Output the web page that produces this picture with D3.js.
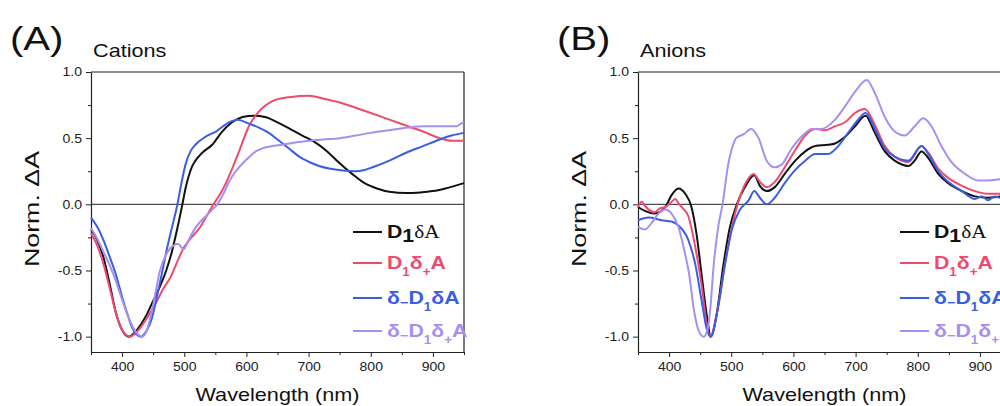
<!DOCTYPE html>
<html><head><meta charset="utf-8">
<script src="https://cdn.jsdelivr.net/npm/d3@7"></script>
<style>
body{margin:0;background:#fff}
svg{display:block}
text{font-family:"Liberation Sans",Arial,sans-serif}
</style>
</head><body>
<svg id="c" width="1000" height="406"></svg>
<script>
// ---------- DATA ----------
const xTicksMajor = [400, 500, 600, 700, 800, 900];
const xTicksMinor = [350, 450, 550, 650, 750, 850, 950];
const yTicksMajor = [-1.0, -0.5, 0.0, 0.5, 1.0];
const yTicksMinor = [-0.75, -0.25, 0.25, 0.75];
const panelLetters = ["(A)", "(B)"];
const panelTitles = ["Cations", "Anions"];
const seriesNames = ["D1dA", "D1d+A", "d-D1dA", "d-D1d+A"];
const seriesColors = ["#111111", "#ee4a6f", "#3a5de6", "#a68ff0"];

// Panel A (cations): [wavelength nm, normalized dA]
const cationsD1dA = [[350,-0.19],[360,-0.27],[370,-0.40],[380,-0.60],[390,-0.82],[400,-0.95],[411,-1.0],[420,-0.97],[430,-0.91],[440,-0.83],[450,-0.73],[460,-0.63],[471,-0.50],[480,-0.36],[488,-0.20],[497,0.0],[502,0.12],[507,0.21],[513,0.29],[518,0.33],[529,0.39],[545,0.45],[561,0.55],[577,0.62],[594,0.66],[612,0.67],[630,0.66],[650,0.62],[670,0.57],[690,0.52],[710,0.47],[730,0.40],[750,0.31],[770,0.23],[790,0.16],[810,0.12],[830,0.095],[857,0.085],[880,0.09],[900,0.10],[920,0.12],[950,0.16]];
const cationsD1dpA = [[350,-0.22],[360,-0.31],[370,-0.45],[380,-0.63],[390,-0.82],[400,-0.95],[413,-1.0],[420,-0.98],[430,-0.93],[440,-0.86],[454,-0.75],[466,-0.64],[478,-0.55],[490,-0.42],[499,-0.33],[510,-0.26],[526,-0.17],[537,-0.08],[547,0.0],[558,0.08],[567,0.16],[578,0.28],[589,0.41],[604,0.59],[620,0.70],[642,0.78],[669,0.81],[701,0.82],[723,0.80],[750,0.77],[776,0.73],[800,0.69],[830,0.64],[860,0.59],[884,0.55],[911,0.50],[930,0.48],[950,0.48]];
const cationsdmD1dA = [[350,-0.10],[360,-0.17],[370,-0.27],[378,-0.37],[390,-0.53],[400,-0.70],[410,-0.85],[416,-0.93],[430,-1.0],[440,-0.95],[448,-0.86],[455,-0.72],[465,-0.50],[472,-0.34],[480,-0.18],[489,0.0],[495,0.15],[502,0.30],[510,0.40],[518,0.45],[534,0.51],[551,0.55],[572,0.62],[586,0.64],[604,0.61],[620,0.58],[636,0.54],[650,0.49],[669,0.42],[685,0.36],[701,0.32],[717,0.29],[733,0.27],[755,0.255],[776,0.25],[790,0.26],[803,0.28],[830,0.33],[857,0.39],[884,0.44],[911,0.49],[930,0.52],[950,0.54]];
const cationsdmD1dpA = [[350,-0.18],[360,-0.26],[370,-0.36],[380,-0.46],[390,-0.58],[400,-0.72],[410,-0.85],[420,-0.95],[432,-1.0],[440,-0.95],[450,-0.76],[461,-0.50],[472,-0.37],[483,-0.31],[490,-0.30],[499,-0.34],[506,-0.28],[515,-0.20],[526,-0.13],[537,-0.08],[545,-0.04],[553,0.0],[563,0.08],[572,0.17],[583,0.25],[594,0.31],[605,0.36],[615,0.40],[630,0.43],[642,0.44],[669,0.46],[700,0.48],[723,0.49],[750,0.50],[776,0.52],[800,0.54],[830,0.56],[860,0.58],[884,0.59],[910,0.59],[938,0.59],[945,0.61],[950,0.62]];

// Panel B (anions)
const anionsD1dA = [[350,-0.02],[361,-0.05],[377,-0.07],[394,-0.02],[404,0.07],[415,0.12],[426,0.08],[436,-0.02],[444,-0.22],[452,-0.52],[461,-0.85],[467,-1.0],[477,-0.82],[487,-0.47],[498,-0.17],[509,0.0],[522,0.13],[537,0.22],[546,0.14],[557,0.10],[570,0.13],[586,0.23],[603,0.33],[619,0.40],[635,0.44],[656,0.45],[667,0.46],[683,0.51],[699,0.59],[716,0.67],[731,0.54],[747,0.40],[763,0.33],[785,0.29],[795,0.33],[806,0.40],[817,0.35],[833,0.23],[849,0.16],[871,0.10],[892,0.06],[913,0.05],[932,0.06],[950,0.07]];
const anionsD1dpA = [[350,-0.02],[356,0.02],[361,-0.01],[367,-0.04],[377,-0.06],[385,-0.03],[394,-0.02],[402,0.01],[410,0.04],[415,0.01],[420,-0.02],[431,-0.09],[442,-0.32],[452,-0.60],[461,-0.92],[466,-1.0],[479,-0.77],[490,-0.45],[501,-0.17],[512,0.03],[522,0.15],[536,0.23],[546,0.17],[557,0.13],[570,0.17],[586,0.28],[603,0.41],[619,0.52],[635,0.57],[651,0.56],[667,0.59],[683,0.62],[699,0.69],[715,0.72],[731,0.60],[747,0.44],[763,0.36],[785,0.32],[806,0.44],[817,0.39],[833,0.27],[849,0.20],[871,0.14],[892,0.10],[913,0.08],[932,0.08],[950,0.09]];
const anionsdmD1dA = [[350,-0.12],[367,-0.10],[388,-0.12],[404,-0.13],[415,-0.16],[431,-0.27],[442,-0.45],[452,-0.72],[461,-0.95],[467,-1.0],[479,-0.77],[490,-0.45],[501,-0.19],[514,-0.04],[528,0.03],[537,0.10],[546,0.05],[557,0.0],[570,0.05],[586,0.16],[603,0.26],[619,0.33],[635,0.38],[656,0.38],[672,0.44],[688,0.54],[704,0.64],[716,0.69],[731,0.57],[747,0.42],[763,0.36],[785,0.33],[806,0.44],[817,0.38],[833,0.25],[849,0.17],[871,0.10],[892,0.04],[903,0.06],[913,0.03],[924,0.06],[932,0.05],[950,0.06]];
const anionsdmD1dpA = [[350,-0.17],[361,-0.19],[372,-0.14],[383,-0.07],[394,-0.04],[404,-0.07],[415,-0.17],[426,-0.38],[432,-0.52],[440,-0.80],[448,-0.96],[456,-1.0],[463,-0.92],[467,-0.75],[471,-0.50],[479,-0.17],[486,0.0],[495,0.30],[501,0.42],[508,0.50],[520,0.53],[532,0.57],[544,0.50],[557,0.33],[570,0.28],[581,0.30],[597,0.42],[615,0.52],[630,0.57],[645,0.57],[667,0.64],[683,0.74],[699,0.85],[718,0.94],[731,0.84],[747,0.66],[763,0.55],[779,0.52],[795,0.59],[809,0.65],[822,0.59],[838,0.44],[854,0.32],[876,0.23],[897,0.18],[913,0.18],[932,0.19],[950,0.20]];

// ---------- DRAW ----------
const svg = d3.select("#c");
const panels = [
  {left: 91, series: [cationsD1dA, cationsD1dpA, cationsdmD1dA, cationsdmD1dpA]},
  {left: 638, series: [anionsD1dA, anionsD1dpA, anionsdmD1dA, anionsdmD1dpA]}
];
const plotW = 373, plotTop = 72, plotBottom = 352;
const XS = 1.17; // horizontal text stretch

function stretch(sel, k) {
  sel.each(function() {
    const L = this.getComputedTextLength();
    d3.select(this).attr("textLength", L * k).attr("lengthAdjust", "spacingAndGlyphs");
  });
}

panels.forEach((p, pi) => {
  const x = d3.scaleLinear().domain([350, 950]).range([p.left, p.left + plotW]);
  const y = d3.scaleLinear().domain([-1.116, 1.0]).range([plotBottom, plotTop]);
  const g = svg.append("g");

  // minor ticks
  g.append("g").attr("transform", `translate(0,${plotBottom})`)
    .call(d3.axisBottom(x).tickValues(xTicksMinor).tickSize(3).tickFormat(""))
    .call(a => a.select(".domain").remove())
    .call(a => a.selectAll("line").attr("stroke", "#222"));
  g.append("g").attr("transform", `translate(${p.left},0)`)
    .call(d3.axisLeft(y).tickValues(yTicksMinor).tickSize(3).tickFormat(""))
    .call(a => a.select(".domain").remove())
    .call(a => a.selectAll("line").attr("stroke", "#222"));

  const xa = g.append("g").attr("transform", `translate(0,${plotBottom})`)
    .call(d3.axisBottom(x).tickValues(xTicksMajor).tickSize(5).tickPadding(5).tickFormat(d3.format("d")).tickSizeOuter(0));
  const ya = g.append("g").attr("transform", `translate(${p.left},0)`)
    .call(d3.axisLeft(y).tickValues(yTicksMajor).tickSize(5).tickPadding(4).tickFormat(d3.format(".1f")).tickSizeOuter(0));
  [xa, ya].forEach(a => {
    a.selectAll("text").attr("font-size", 12).attr("fill", "#222").style("font-family", "Liberation Sans, Arial");
    a.selectAll("line").attr("stroke", "#222");
    a.select(".domain").attr("stroke", "#222").attr("stroke-width", 1.2);
  });
  ya.selectAll("text").text(d => d3.format(".1f")(d).replace("−", "-"));
  stretch(xa.selectAll("text"), XS);
  stretch(ya.selectAll("text"), XS);

  // frame top/right
  g.append("line").attr("x1", p.left).attr("x2", p.left + plotW).attr("y1", plotTop).attr("y2", plotTop).attr("stroke", "#222").attr("stroke-width", 1.2);
  g.append("line").attr("x1", p.left + plotW).attr("x2", p.left + plotW).attr("y1", plotTop).attr("y2", plotBottom).attr("stroke", "#222").attr("stroke-width", 1.2);
  // zero line
  g.append("line").attr("x1", x(350)).attr("x2", x(950)).attr("y1", y(0)).attr("y2", y(0)).attr("stroke", "#222").attr("stroke-width", 1);

  const line = d3.line().x(d => x(d[0])).y(d => y(d[1])).curve(d3.curveMonotoneX);
  p.series.forEach((s, i) => {
    g.append("path").datum(s).attr("d", line).attr("fill", "none")
      .attr("stroke", seriesColors[i]).attr("stroke-width", 2).attr("stroke-linejoin", "round");
  });

  // panel letter & title
  const letter = svg.append("text").attr("x", p.left - 81).attr("y", 50).attr("font-size", 34).attr("fill", "#111").text(panelLetters[pi]);
  stretch(letter, 1.18);
  const title = svg.append("text").attr("x", p.left + 2).attr("y", 57).attr("font-size", 18.5).attr("fill", "#111").text(panelTitles[pi]);
  stretch(title, XS);

  // axis titles
  const xl = svg.append("text").attr("x", p.left + plotW / 2).attr("y", 401).attr("text-anchor", "middle")
    .attr("font-size", 18.5).attr("fill", "#111").text("Wavelength (nm)");
  stretch(xl, XS);
  svg.append("text").attr("transform", `translate(${p.left - 52},209) rotate(-90)`).attr("text-anchor", "middle")
    .attr("font-size", 20).attr("fill", "#111")
    .attr("textLength", 116).attr("lengthAdjust", "spacingAndGlyphs").text("Norm. ΔA");

  // legend
  const lx = p.left + 262;
  const rows = [232, 263, 298, 331];
  rows.forEach((ry, i) => {
    g.append("line").attr("x1", lx).attr("x2", lx + 29).attr("y1", ry).attr("y2", ry)
      .attr("stroke", seriesColors[i]).attr("stroke-width", 2);
  });
  function entry(i, parts) {
    const t = g.append("text").attr("transform", `translate(${lx + 34},${rows[i] + 5.5}) scale(1.12,1)`)
      .attr("fill", seriesColors[i]).attr("font-weight", "bold").attr("font-size", 19);
    let cur = 0;
    parts.forEach(([txt, kind]) => {
      const ts = t.append("tspan").text(txt);
      let target = 0;
      if (kind === "sub") { ts.attr("font-size", 12); target = 7; }
      else if (kind === "sub-") { ts.attr("font-size", 13); target = 3; }
      else if (kind === "big1") { target = 4; }
      else if (kind === "serif") { ts.style("font-family", "Liberation Serif, Times New Roman").attr("font-weight", "normal"); target = 0; }
      ts.attr("dy", target - cur);
      cur = target;
    });
  }
  entry(0, [["D", ""], ["1", "big1"], ["δA", "serif"]]);
  entry(1, [["D", ""], ["1", "sub"], ["δ", ""], ["+", "sub"], ["A", ""]]);
  entry(2, [["δ", ""], ["−", "sub-"], ["D", ""], ["1", "sub"], ["δA", ""]]);
  entry(3, [["δ", ""], ["−", "sub-"], ["D", ""], ["1", "sub"], ["δ", ""], ["+", "sub"], ["A", ""]]);
});
</script>
</body></html>
